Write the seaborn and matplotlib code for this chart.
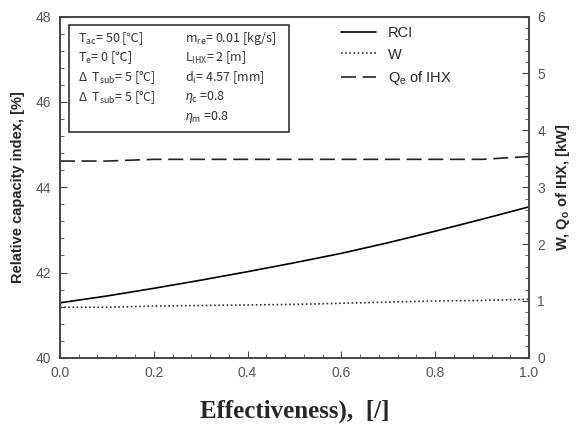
import pandas as pd
import matplotlib.pyplot as plt
from matplotlib.ticker import MultipleLocator
from matplotlib.patches import Rectangle
import seaborn as sns

# values
effectiveness = [0.0, 0.1, 0.2, 0.3, 0.4, 0.5, 0.6, 0.7, 0.8, 0.9, 1.0]
rci = [41.29, 41.45, 41.63, 41.82, 42.02, 42.23, 42.45, 42.70, 42.97, 43.25, 43.54]
work = [0.89, 0.89, 0.91, 0.92, 0.93, 0.94, 0.96, 0.98, 1.00, 1.01, 1.03]
qe_ihx = [3.46, 3.46, 3.49, 3.49, 3.49, 3.49, 3.49, 3.49, 3.49, 3.49, 3.54]

left_ticks = [40, 42, 44, 46, 48]
right_ticks = [0, 1, 2, 3, 4, 5, 6]
x_ticks = [0.0, 0.2, 0.4, 0.6, 0.8, 1.0]

box_col1 = [r'T$_{\mathregular{ac}}$= 50 [℃]',
            r'T$_{\mathregular{e}}$= 0 [℃]',
            r'Δ  T$_{\mathregular{sub}}$= 5 [°C]',
            r'Δ  T$_{\mathregular{sub}}$= 5 [°C]']
box_col2 = [r'm$_{\mathregular{re}}$= 0.01 [kg/s]',
            r'L$_{\mathregular{IHX}}$= 2 [m]',
            r'd$_{\mathregular{i}}$= 4.57 [mm]',
            r'$\eta_{\mathregular{c}}$ =0.8',
            r'$\eta_{\mathregular{m}}$ =0.8']

df = pd.DataFrame({'eff': effectiveness, 'RCI': rci, 'W': work, 'Qe': qe_ihx})

sns.set_style('ticks')
plt.rcParams['font.family'] = ['Liberation Sans', 'DejaVu Sans']
plt.rcParams['mathtext.fontset'] = 'custom'
plt.rcParams['mathtext.rm'] = 'Liberation Sans'
plt.rcParams['mathtext.it'] = 'Liberation Sans:italic'
plt.rcParams['mathtext.bf'] = 'Liberation Sans:bold'

fig = plt.figure(figsize=(5.82, 4.25), dpi=100)
ax = fig.add_axes([0.103, 0.158, 0.806, 0.803])
ax2 = ax.twinx()

sns.lineplot(data=df, x='eff', y='RCI', ax=ax, color='black', lw=1.2, label='RCI', legend=False)
sns.lineplot(data=df, x='eff', y='W', ax=ax2, color='#333333', lw=1.2, label='W', legend=False)
sns.lineplot(data=df, x='eff', y='Qe', ax=ax2, color='#222222', lw=1.2,
             label=r'Q$_{\mathregular{e}}$ of IHX', legend=False)
ax2.lines[0].set_linestyle((0, (1, 1.5)))
ax2.lines[1].set_linestyle((0, (9, 4)))

ax.set_xlim(0, 1)
ax.set_ylim(40, 48)
ax2.set_ylim(0, 6)
ax.set_xticks(x_ticks)
ax.set_yticks(left_ticks)
ax2.set_yticks(right_ticks)
ax.xaxis.set_minor_locator(MultipleLocator(0.04))
ax.yaxis.set_minor_locator(MultipleLocator(0.4))
ax2.yaxis.set_minor_locator(MultipleLocator(0.2))
ax.tick_params(axis='both', which='both', direction='in', colors='#444444', labelcolor='#555555',
               labelsize=10, top=False, right=False)
ax.tick_params(which='major', length=5, pad=6)
ax.tick_params(which='minor', length=3)
ax2.tick_params(axis='y', which='both', direction='in', colors='#444444', labelcolor='#555555',
                labelsize=10, pad=6)
ax2.tick_params(which='major', length=5)
ax2.tick_params(which='minor', length=3)
for a in (ax, ax2):
    for s in a.spines.values():
        s.set_color('#444444')
        s.set_linewidth(1.2)

ax.set_xlabel('Effectiveness),  [/]', family='Liberation Serif', fontweight='bold', fontsize=18, labelpad=14)
ax.set_ylabel('Relative capacity index, [%]', fontweight='bold', fontsize=10.5, labelpad=8)
ax2.set_ylabel(r'W, Q$_{\mathregular{o}}$ of IHX, [kW]', fontweight='bold', fontsize=10.5,
               rotation=90, labelpad=6)

# condition box; the box text uses a family that has the ℃ sign
box_font = 'Noto Sans CJK SC'
ax.add_patch(Rectangle((0.019, 0.662), 0.469, 0.313, transform=ax.transAxes,
                       fill=False, edgecolor='#333333', lw=1.2))
for i, t in enumerate(box_col1):
    ax.text(0.038, 0.937 - i * 0.058, t, transform=ax.transAxes, va='center', fontsize=9,
            color='#333333', family=box_font)
for i, t in enumerate(box_col2):
    ax.text(0.267, 0.937 - i * 0.058, t, transform=ax.transAxes, va='center', fontsize=9,
            color='#333333', family=box_font)

handles = ax.lines[:1] + ax2.lines[:2]
fig.legend(handles, [h.get_label() for h in handles], loc='upper left',
           bbox_to_anchor=(334 / 582, 1 - 19 / 425), frameon=False, borderpad=0,
           handlelength=2.4, handletextpad=0.8, labelspacing=0.5, fontsize=10.5)

fig.savefig('out.png', dpi=100)
